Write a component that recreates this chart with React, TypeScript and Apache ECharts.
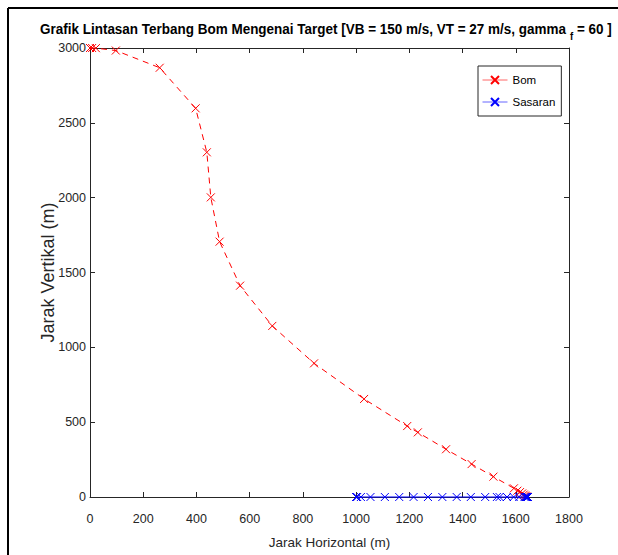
import React, { useEffect, useRef } from "react";
import * as echarts from "echarts";

// Bom (bomb) trajectory
const bomX = [0, 8, 22, 97, 262, 397, 439, 454, 487, 564, 685, 842, 1030, 1192, 1232, 1338, 1434, 1516, 1593, 1606, 1616, 1624, 1630, 1635, 1639, 1642, 1645];
const bomY = [3000, 3000, 2999, 2983, 2868, 2597, 2303, 2002, 1706, 1412, 1143, 893, 655, 474, 432, 319, 220, 136, 58, 42, 33, 24, 16, 10, 5, 2, 0];

// Sasaran (target) positions on the ground
const sasaranX = [1000, 1001, 1004, 1018, 1054, 1108, 1162, 1216, 1270, 1324, 1378, 1431, 1485, 1529, 1539, 1567, 1592, 1613, 1633, 1637, 1639, 1641, 1642, 1643, 1644, 1645, 1646];
const sasaranY = [0, 0, 0, 0, 0, 0, 0, 0, 0, 0, 0, 0, 0, 0, 0, 0, 0, 0, 0, 0, 0, 0, 0, 0, 0, 0, 0];

const xMin = 0;
const xMax = 1800;
const xStep = 200;
const yMin = 0;
const yMax = 3000;
const yStep = 500;

const titleText = "Grafik Lintasan Terbang Bom Mengenai Target [VB = 150 m/s, VT = 27 m/s, gamma {s|f} = 60 ]";
const xName = "Jarak Horizontal (m)";
const yName = "Jarak Vertikal (m)";
const seriesNames = ["Bom", "Sasaran"];

const App = () => {
  const ref = useRef<HTMLDivElement>(null);
  useEffect(() => {
    document.body.style.margin = "0";
    const chart = echarts.init(ref.current!, null, { renderer: "svg" });
    const sans = '"Liberation Sans", Arial, sans-serif';
    const axisColor = "#262626";
    const xSym = "path://M0,0L10,10M10,0L0,10";
    const baseAxis = {
      axisLine: { onZero: false, lineStyle: { color: axisColor, width: 1 } },
      axisTick: { inside: true, length: 5, lineStyle: { color: axisColor, width: 1 } },
      splitLine: { show: false },
    };
    const plain = (v: number) => String(v);
    chart.setOption({
      animation: false,
      backgroundColor: "#ffffff",
      grid: { left: 90, right: 49, top: 48, bottom: 58 },
      legend: {
        data: seriesNames,
        orient: "vertical",
        left: 478,
        top: 66,
        padding: [7, 6, 7, 4],
        itemGap: 8,
        itemWidth: 25,
        itemHeight: 10,
        backgroundColor: "#fff",
        borderColor: axisColor,
        borderWidth: 1,
        borderRadius: 0,
        lineStyle: { type: "solid", width: 1, opacity: 0.6 },
        textStyle: { fontFamily: sans, fontSize: 11.5, color: "#000", lineHeight: 14 },
      },
      xAxis: [
        {
          type: "value",
          position: "bottom",
          min: xMin,
          max: xMax,
          interval: xStep,
          name: xName,
          nameLocation: "middle",
          nameGap: 38,
          nameMoveOverlap: false,
          nameTextStyle: { fontFamily: sans, fontSize: 13.5, color: axisColor },
          axisLabel: { margin: 15, fontFamily: sans, fontSize: 12.5, color: axisColor, formatter: plain },
          ...baseAxis,
        },
        {
          type: "value",
          position: "top",
          min: xMin,
          max: xMax,
          interval: xStep,
          axisLabel: { show: false },
          ...baseAxis,
        },
      ],
      yAxis: [
        {
          type: "value",
          position: "left",
          min: yMin,
          max: yMax,
          interval: yStep,
          name: yName,
          nameLocation: "middle",
          nameGap: 33,
          nameMoveOverlap: false,
          nameTextStyle: { fontFamily: sans, fontSize: 18, color: axisColor },
          axisLabel: { margin: 4, fontFamily: sans, fontSize: 12.5, color: axisColor, formatter: plain },
          ...baseAxis,
        },
        {
          type: "value",
          position: "right",
          min: yMin,
          max: yMax,
          interval: yStep,
          axisLabel: { show: false },
          ...baseAxis,
        },
      ],
      series: [
        {
          name: seriesNames[0],
          type: "line",
          data: bomX.map((x, i) => [x, bomY[i]]),
          symbol: xSym,
          symbolSize: 8,
          lineStyle: { color: "#ff0000", width: 1, type: [6, 5] },
          itemStyle: { color: "#ff0000", borderColor: "#ff0000", borderWidth: 1 },
          clip: false,
          z: 3,
        },
        {
          name: seriesNames[1],
          type: "line",
          data: sasaranX.map((x, i) => [x, sasaranY[i]]),
          symbol: xSym,
          symbolSize: 8,
          lineStyle: { color: "#0000ff", width: 1 },
          itemStyle: { color: "#0000ff", borderColor: "#0000ff", borderWidth: 1 },
          clip: false,
          z: 4,
        },
      ],
      graphic: [
        { type: "line", shape: { x1: 8, y1: 8, x2: 618, y2: 8 }, style: { stroke: "#000", lineWidth: 2 } },
        { type: "line", shape: { x1: 8, y1: 8, x2: 8, y2: 555 }, style: { stroke: "#000", lineWidth: 2 } },
        {
          type: "text",
          x: 40,
          y: 29,
          scaleX: 0.87,
          style: {
            text: titleText,
            fontFamily: sans,
            fontSize: 15.5,
            fontWeight: "bold",
            fill: "#000",
            verticalAlign: "middle",
            rich: {
              s: { fontFamily: sans, fontSize: 11, fontWeight: "bold", fill: "#000", padding: [15, 0, 0, 0] },
            },
          },
        },
      ],
    });
    return () => chart.dispose();
  }, []);
  return <div ref={ref} style={{ width: 618, height: 555 }} />;
};

export default App;
